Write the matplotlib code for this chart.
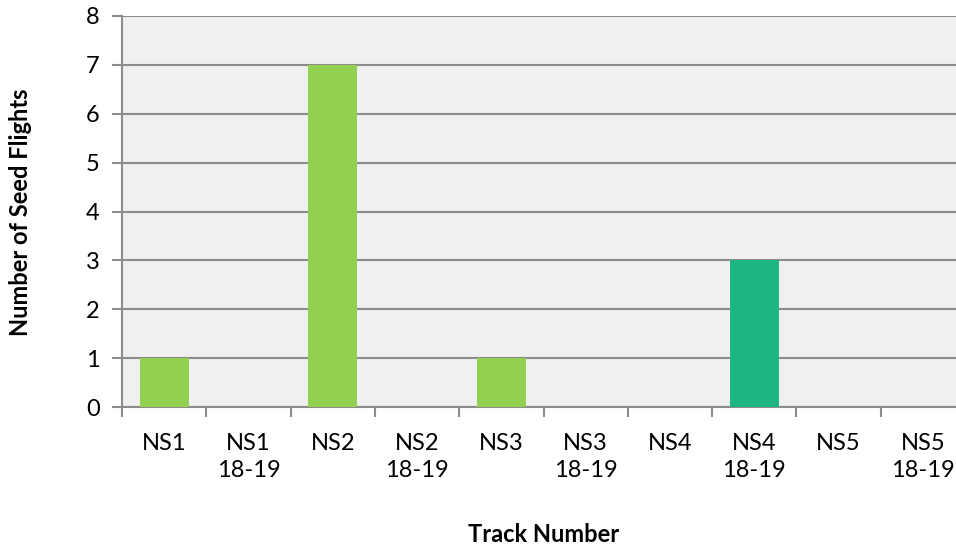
import numpy as np
import matplotlib
matplotlib.use('Agg')
from matplotlib import pyplot as plt

plt.rcParams['font.family'] = ['Lato', 'DejaVu Sans']

tracks = ['NS1', 'NS1\n18-19', 'NS2', 'NS2\n18-19', 'NS3', 'NS3\n18-19',
          'NS4', 'NS4\n18-19', 'NS5', 'NS5\n18-19']
flights = [1, 0, 7, 0, 1, 0, 0, 3, 0, 0]
colors = ['#92d050' if '18-19' not in t else '#1db584' for t in tracks]

fig = plt.figure(figsize=(9.56, 5.48), dpi=100)
ax = fig.add_axes([122/956, 1 - 407/548, 843/956, 391/548])
ax.set_facecolor('#f0f0f0')

x = np.arange(len(tracks))
ax.bar(x, flights, width=0.58, color=colors, zorder=3)

ax.set_xlim(-0.5, len(tracks) - 0.5)
ax.set_ylim(0, 8)
ax.set_yticks(range(9))
ax.yaxis.grid(True, color='#8c8c8c', linewidth=1.5, zorder=1)

ax.set_xticks(x)
ax.set_xticklabels(tracks, fontsize=17, linespacing=1.35)
ax.set_xticks(np.arange(-0.5, len(tracks)), minor=True)
ax.tick_params(axis='x', which='major', length=0, pad=19)
ax.tick_params(axis='x', which='minor', length=7, width=1.5, color='#8c8c8c')
ax.tick_params(axis='y', length=7, width=1.5, color='#8c8c8c', labelsize=17, pad=9)

for s in ['top', 'right']:
    ax.spines[s].set_visible(False)
for s in ['left', 'bottom']:
    ax.spines[s].set_color('#8c8c8c')
    ax.spines[s].set_linewidth(1.5)

fig.text(544/956, 1 - 535/548, 'Track Number', ha='center', va='center',
         fontsize=17, fontweight='bold')
fig.text(21/956, 1 - 212/548, 'Number of Seed Flights', ha='center', va='center',
         rotation=90, fontsize=17, fontweight='bold')

fig.savefig('out.png', dpi=100)
